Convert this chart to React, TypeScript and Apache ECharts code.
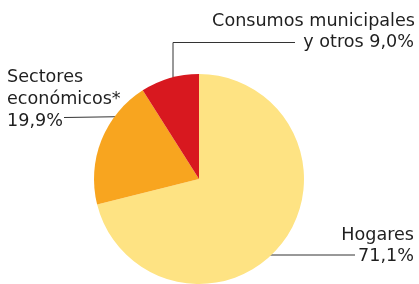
import React, { useEffect, useRef } from "react";
import * as echarts from "echarts";

const categories = ["Hogares", "Sectores económicos*", "Consumos municipales y otros"];
const values = [71.1, 19.9, 9.0];
const colors = ["#FEE383", "#F8A51F", "#D8181F"];

const fmt = (v: number) => v.toFixed(1).replace(".", ",") + "%";

export default function App() {
  const ref = useRef<HTMLDivElement>(null);
  useEffect(() => {
    const chart = echarts.init(ref.current!, undefined, { renderer: "svg" });
    const font = "DejaVu Sans";
    const fs = 17.6;
    const mid = (baseline: number) => baseline - 0.346 * fs;
    const txt = (text: string, x: number, baseline: number, align: string) => ({
      type: "text",
      x,
      y: mid(baseline),
      style: {
        text,
        x: 0,
        y: 0,
        align,
        verticalAlign: "middle",
        fontFamily: font,
        fontSize: fs,
        fill: "#1f1f1f",
      },
    });
    const lineStyle = { stroke: "#333", lineWidth: 1 };
    chart.setOption({
      animation: false,
      series: [
        {
          type: "pie",
          center: [199, 179],
          radius: [0, 105],
          startAngle: 90,
          clockwise: true,
          label: { show: false },
          labelLine: { show: false },
          silent: true,
          data: categories.map((c, i) => ({
            name: c,
            value: values[i],
            itemStyle: { color: colors[i] },
          })),
        },
      ],
      graphic: [
        txt("Consumos municipales", 415, 26.5, "right"),
        txt("y otros " + fmt(values[2]), 414, 47.5, "right"),
        txt("Sectores", 7, 82.3, "left"),
        txt("económicos*", 7, 104.3, "left"),
        txt(fmt(values[1]), 7, 126, "left"),
        txt("Hogares", 414, 240, "right"),
        txt(fmt(values[0]), 414, 261.5, "right"),
        {
          type: "polyline",
          shape: { points: [[295, 42.5], [173, 42.5], [173, 97]] },
          style: { ...lineStyle, fill: null },
        },
        {
          type: "line",
          shape: { x1: 64, y1: 117.5, x2: 132, y2: 116.5 },
          style: lineStyle,
        },
        {
          type: "line",
          shape: { x1: 242, y1: 255, x2: 355, y2: 255 },
          style: lineStyle,
        },
      ],
    });
    return () => chart.dispose();
  }, []);
  return (
    <div
      ref={ref}
      style={{ position: "fixed", left: 0, top: 0, width: 419, height: 284 }}
    />
  );
}
